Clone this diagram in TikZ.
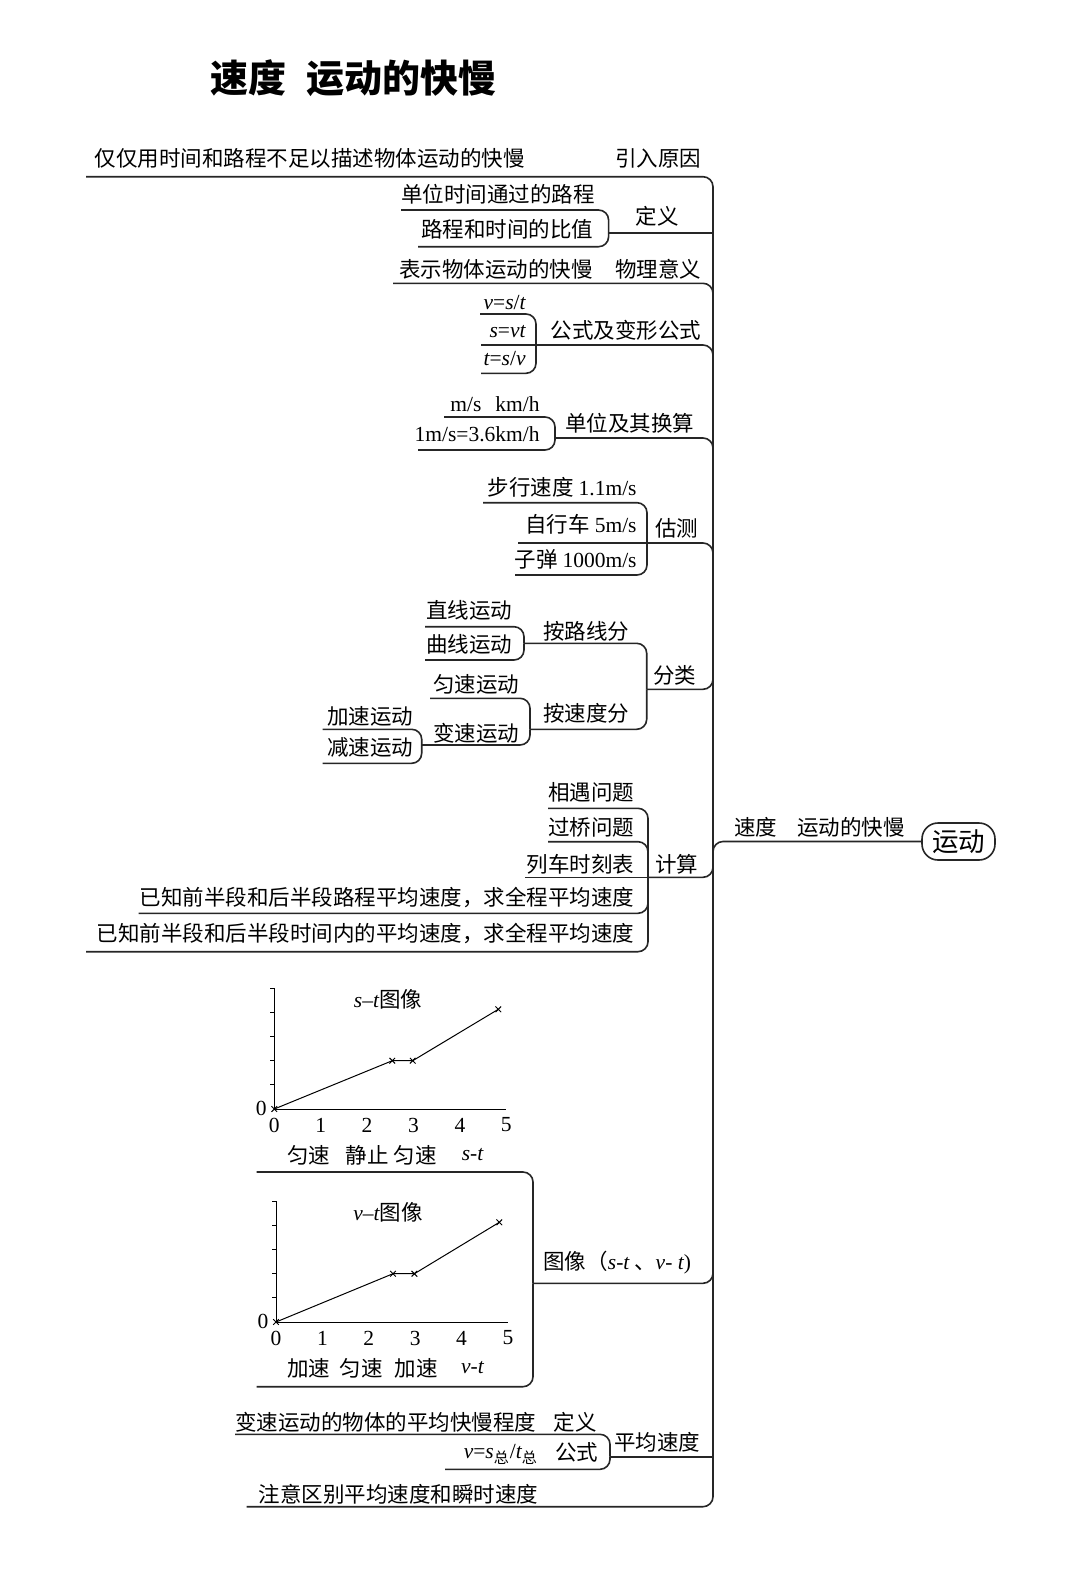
\documentclass[tikz,border=0pt]{standalone}
\usepackage{fontspec}
\setmainfont{Liberation Serif}
\newfontfamily\cjk{Noto Sans CJK SC}
\usetikzlibrary{positioning,calc}
\newcommand{\en}[1]{{\rmfamily #1}}
\newcommand{\iv}[1]{{\rmfamily\itshape #1}}

\begin{document}
\begin{tikzpicture}[
  x=0.5pt, y=-0.5pt,
  txt/.style={inner sep=0pt, font=\cjk\fontsize{10.75}{13}\selectfont},
  headtxt/.style={inner sep=0pt, font=\cjk\bfseries\fontsize{19}{23}\selectfont},
  link/.style={line width=0.8pt, draw=black!85, rounded corners=5pt},
  rootbox/.style={draw=black!85, line width=0.8pt, rounded corners=8pt, inner sep=0pt,
                  minimum width=36.5pt, minimum height=18.5pt,
                  font=\cjk\fontsize{13.25}{15}\selectfont},
  graphaxis/.style={line width=0.5pt},
  plotline/.style={line width=0.5pt, mark size=2pt},
]
\useasboundingbox (0,0) rectangle (1080,1581);
\fill[white] (0,0) rectangle (1080,1581);

\node[headtxt, anchor=west] (title) at (210,78) {速度\hspace{10pt}运动的快慢};

% root and spine
\coordinate (root) at (713,842);
\node[rootbox] (yd) at (958.5,841.5) {运动};
\node[txt, anchor=west] (sdlabel) at (734,827) {速度\hspace{10pt}运动的快慢};
\draw[link] (yd.west) -| ([yshift=-15pt]root);

% 引入原因
\node[txt, anchor=west] (why) at (94.5,158) {仅仅用时间和路程不足以描述物体运动的快慢};
\node[txt, anchor=west] (yinru) at (615,158) {引入原因};
\coordinate (u1) at (86,176.7);
\draw[link] (u1) -| (root);

% 定义
\node[txt, anchor=west] (def1) at (401,194) {单位时间通过的路程};
\node[txt, anchor=west] (def2) at (421,229) {路程和时间的比值};
\node[txt, anchor=west] (dingyi) at (635.5,216) {定义};
\coordinate (jdy) at (608.6,233);
\coordinate (u21) at (401,210);
\coordinate (u22) at (418,246.7);
\draw[link] (u21) -| (jdy);
\draw[link] (u22) -| (jdy);
\draw[link] (jdy) -- (jdy -| root);

% 物理意义
\node[txt, anchor=west] (mean1) at (399,269) {表示物体运动的快慢};
\node[txt, anchor=west] (wlyy) at (615,269) {物理意义};
\coordinate (u3) at (393,283.3);
\draw[link] (u3) -| (root);

% 公式及变形公式
\node[txt, anchor=east] (f1) at (526,303) {\iv{v}\en{=}\iv{s}\en{/}\iv{t}};
\node[txt, anchor=east] (f2) at (526,332) {\iv{s}\en{=}\iv{vt}};
\node[txt, anchor=east] (f3) at (526,359) {\iv{t}\en{=}\iv{s}\en{/}\iv{v}};
\node[txt, anchor=west] (gongshi) at (550.5,330) {公式及变形公式};
\coordinate (jgs) at (536,345);
\coordinate (u41) at (480,314);
\coordinate (u42) at (481,345);
\coordinate (u43) at (481,373.3);
\draw[link] (u41) -| (jgs);
\draw[link] (u42) -- (jgs);
\draw[link] (u43) -| (jgs);
\draw[link] (jgs) -| (root);

% 单位及其换算
\node[txt, anchor=east] (unit1) at (540,404) {\en{m/s\hspace{7pt}km/h}};
\node[txt, anchor=east] (unit2) at (540,434) {\en{1m/s=3.6km/h}};
\node[txt, anchor=west] (danwei) at (565,423) {单位及其换算};
\coordinate (jdw) at (555,438);
\coordinate (u51) at (444,417);
\coordinate (u52) at (418,450);
\draw[link] (u51) -| (jdw);
\draw[link] (u52) -| (jdw);
\draw[link] (jdw) -| (root);

% 估测
\node[txt, anchor=east] (est1) at (637,487) {步行速度 \en{1.1m/s}};
\node[txt, anchor=east] (est2) at (637,524) {自行车 \en{5m/s}};
\node[txt, anchor=east] (est3) at (637,559) {子弹 \en{1000m/s}};
\node[txt, anchor=west] (guce) at (655,528) {估测};
\coordinate (jgc) at (647,543);
\coordinate (u61) at (483,502.7);
\coordinate (u62) at (518,543);
\coordinate (u63) at (515,575);
\draw[link] (u61) -| (jgc);
\draw[link] (u62) -- (jgc);
\draw[link] (u63) -| (jgc);
\draw[link] (jgc) -| (root);

% 分类
\node[txt, anchor=west] (line1) at (426,610) {直线运动};
\node[txt, anchor=west] (line2) at (426,644) {曲线运动};
\node[txt, anchor=west] (bylx) at (542.7,631) {按路线分};
\node[txt, anchor=west] (spd1) at (433,684) {匀速运动};
\node[txt, anchor=west] (spd2) at (433,733) {变速运动};
\node[txt, anchor=west] (bysd) at (542.7,713) {按速度分};
\node[txt, anchor=west] (acc1) at (326.7,716) {加速运动};
\node[txt, anchor=west] (acc2) at (326.7,747) {减速运动};
\node[txt, anchor=west] (fenlei) at (653,675) {分类};
\coordinate (jlx) at (524,643.3);
\coordinate (jsd) at (530,729.3);
\coordinate (jbs) at (421.7,745);
\coordinate (jfl) at (646.7,689.3);
\coordinate (u71) at (425,626.7);
\coordinate (u72) at (425,660);
\coordinate (u73) at (430,698.3);
\coordinate (u74) at (322.7,729.3);
\coordinate (u75) at (322.7,763.3);
\draw[link] (u71) -| (jlx);
\draw[link] (u72) -| (jlx);
\draw[link] (u73) -| (jsd);
\draw[link] (jbs) -| (jsd);
\draw[link] (u74) -| (jbs);
\draw[link] (u75) -| (jbs);
\draw[link] (jlx) -| (jfl);
\draw[link] (jsd) -| (jfl);
\draw[link] (jfl) -| (root |- jgc);

% 计算
\node[txt, anchor=east] (calc1) at (634.6,792) {相遇问题};
\node[txt, anchor=east] (calc2) at (634.6,827) {过桥问题};
\node[txt, anchor=east] (calc3) at (634.6,864) {列车时刻表};
\node[txt, anchor=east] (calc4) at (634.6,897) {已知前半段和后半段路程平均速度，求全程平均速度};
\node[txt, anchor=east] (calc5) at (634.6,933) {已知前半段和后半段时间内的平均速度，求全程平均速度};
\node[txt, anchor=west] (jisuan) at (655,864) {计算};
\coordinate (jjs) at (648,877.3);
\coordinate (u81) at (548,808.3);
\coordinate (u82) at (548,841.7);
\coordinate (u83) at (525,877.3);
\coordinate (u84) at (138.7,913.3);
\coordinate (u85) at (86,951.7);
\draw[link] (u81) -| (jjs);
\draw[link] (u82) -| (jjs);
\draw[link] (u83) -- (jjs);
\draw[link] (u84) -| (jjs);
\draw[link] (u85) -| (jjs);
\draw[link] (jjs) -| (root);

% 图像
\begin{scope}[shift={(274.3,1109)}]
  \draw[graphaxis] (0,-120.7) -- (0,0) -- (232,0);
  \foreach \k in {1,...,5} \draw[graphaxis] (-4,-24.1*\k) -- (0,-24.1*\k);
  \foreach \k in {0,...,5} \node[txt] (stx\k) at (46.4*\k,16) {\en{\k}};
  \node[txt] (sty0) at (-13,-1) {\en{0}};
  \draw[plotline] plot[mark=x] coordinates {(0,0) (118,-48.3) (138.4,-48.3) (224,-99.7)};
  \node[txt] (sttitle) at (113.7,-110) {\iv{s}\en{--}\iv{t}图像};
  \node[txt] (stl1) at (34.2,46) {匀速};
  \node[txt] (stl2) at (92.7,46) {静止};
  \node[txt] (stl3) at (140.7,46) {匀速};
  \node[txt] (stl4) at (198.2,46) {\iv{s}\en{-}\iv{t}};
\end{scope}
\begin{scope}[shift={(276,1322)}]
  \draw[graphaxis] (0,-120.7) -- (0,0) -- (232,0);
  \foreach \k in {1,...,5} \draw[graphaxis] (-4,-24.1*\k) -- (0,-24.1*\k);
  \foreach \k in {0,...,5} \node[txt] (vtx\k) at (46.4*\k,16) {\en{\k}};
  \node[txt] (vty0) at (-13,-1) {\en{0}};
  \draw[plotline] plot[mark=x] coordinates {(0,0) (117,-48.3) (138.4,-48.3) (223.3,-99.7)};
  \node[txt] (vttitle) at (112,-109.3) {\iv{v}\en{--}\iv{t}图像};
  \node[txt] (vtl1) at (32.5,46) {加速};
  \node[txt] (vtl2) at (85,46) {匀速};
  \node[txt] (vtl3) at (140,46) {加速};
  \node[txt] (vtl4) at (196.5,46) {\iv{v}\en{-}\iv{t}};
\end{scope}
\node[txt, anchor=west] (tuxiang) at (543,1263) {图像（\iv{s}\en{-}\iv{t} 、\iv{v}\en{- }\iv{t}\en{)}};
\coordinate (jtx) at (533,1283.3);
\coordinate (u91) at (256.7,1172);
\coordinate (u92) at (256.7,1386.7);
\draw[link] (u91) -| (jtx);
\draw[link] (u92) -| (jtx);
\draw[link] (jtx) -| (root);

% 平均速度
\node[txt, anchor=west] (avgdef) at (235,1422.5) {变速运动的物体的平均快慢程度};
\node[txt, anchor=west] (avgdy) at (553.3,1422.5) {定义};
\node[txt, anchor=east] (avgf) at (538.3,1454) {\iv{v}\en{=}\iv{s}\textsubscript{总}\en{/}\iv{t}\textsubscript{总}};
\node[txt, anchor=west] (avggs) at (555,1452) {公式};
\node[txt, anchor=west] (avg) at (614,1442) {平均速度};
\coordinate (jpj) at (610,1456.7);
\coordinate (u101) at (235,1434.3);
\coordinate (u102) at (445,1469.3);
\draw[link] (u101) -| (jpj);
\draw[link] (u102) -| (jpj);
\draw[link] (jpj) -- (jpj -| root);

% 注意区别
\node[txt, anchor=west] (note) at (258.3,1494) {注意区别平均速度和瞬时速度};
\coordinate (u11) at (246.7,1506.7);
\draw[link] (u11) -| (root);
\end{tikzpicture}
\end{document}
